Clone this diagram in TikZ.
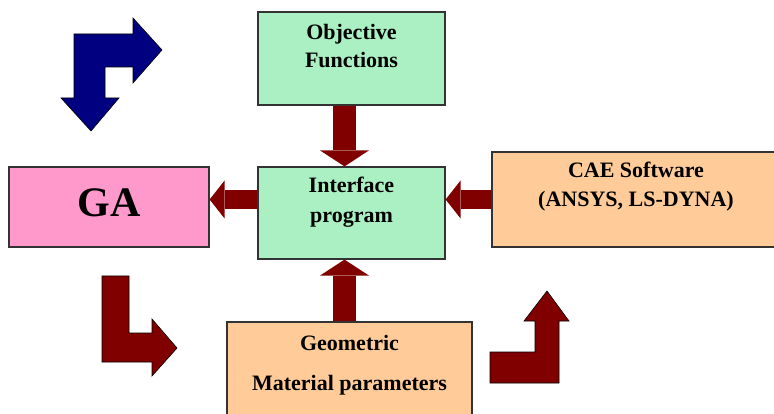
\documentclass[tikz,border=0pt]{standalone}
\usepackage{fontspec}
\setmainfont{Liberation Serif}
\usetikzlibrary{arrows.meta}

\definecolor{boxgreen}{RGB}{170,240,195}
\definecolor{boxpink}{RGB}{255,153,204}
\definecolor{boxorange}{RGB}{255,204,153}
\definecolor{arrowred}{RGB}{128,0,0}
\definecolor{arrowblue}{RGB}{0,0,128}

\newcommand{\boxtext}[4]{\parbox[c][#2][t]{#1}{\centering\rule{0pt}{#3}#4}}

\begin{document}
\begin{tikzpicture}[x=1pt, y=-1pt,
  main node/.style={draw=black!80, line width=1.2pt, inner sep=0pt, font=\bfseries\fontsize{22}{29}\selectfont},
  vert arrow/.style={draw=arrowred, line width=23pt, -{Triangle[width=49pt, length=16pt, line width=0pt]}},
  horiz arrow/.style={draw=arrowred, line width=19pt, -{Triangle[width=38pt, length=15pt, line width=0pt]}},
  bent arrow/.style={draw=black, line width=0.6pt, miter limit=20}]
\useasboundingbox (0,0) rectangle (774,414);
\clip (0,0) rectangle (774,414);
\fill[white] (0,0) rectangle (774,414);

\node[main node, fill=boxgreen]  (1) at (351.5,213)  {\boxtext{187pt}{92pt}{26pt}{Interface\\[1pt]program}};
\node[main node, fill=boxgreen]  (2) at (351.5,58.5) {\boxtext{187pt}{93pt}{28pt}{Objective\\[-1pt]Functions}};
\node[main node, fill=boxorange] (3) at (636,199.5)  {\boxtext{288pt}{95pt}{26pt}{CAE Software\\(ANSYS, LS-DYNA)}};
\node[main node, fill=boxpink, font=\bfseries\fontsize{42}{46}\selectfont] (4) at (109,207) {\boxtext{200pt}{80pt}{50pt}{GA}};
\node[main node, fill=boxorange] (5) at (349.5,376)  {\boxtext{245pt}{108pt}{28pt}{Geometric\\[11pt]Material parameters}};

\draw[vert arrow]  ([xshift=-7pt]2.south) -- ([xshift=-7pt]1.north);
\draw[vert arrow]  ([xshift=-5pt]5.north) -- ([xshift=-5pt]5.north |- 1.south);
\draw[horiz arrow] (3.west) -- (3.west -| 1.east);
\draw[horiz arrow] (1.west |- 3.west) -- (4.east |- 3.west);

\filldraw[bent arrow, fill=arrowblue] (74,34) -- (133,34) -- (133,18) -- (162,50) -- (133,83) -- (133,67) -- (105,67)
  -- (105,98) -- (119,98) -- (91,131) -- (61,98) -- (74,98) -- cycle;
\filldraw[bent arrow, fill=arrowred] (102,276) -- (129,276) -- (129,333) -- (152,333) -- (152,319) -- (177,348)
  -- (152,376) -- (152,362) -- (102,362) -- cycle;
\filldraw[bent arrow, fill=arrowred] (490,352) -- (535,352) -- (535,321) -- (524,321) -- (547,291) -- (569,321)
  -- (559,321) -- (559,383) -- (490,383) -- cycle;
\end{tikzpicture}
\end{document}
